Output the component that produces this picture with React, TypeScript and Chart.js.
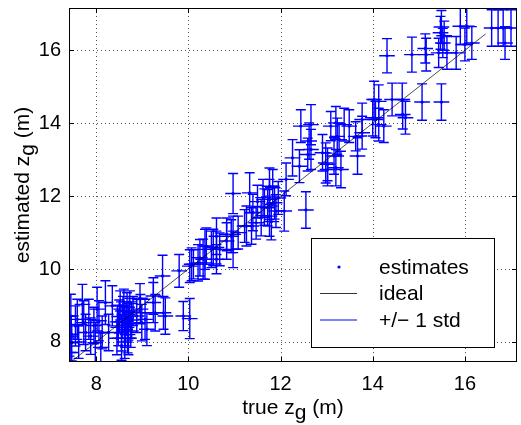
import React, { useEffect, useRef } from "react";
import { Chart, registerables } from "chart.js";

Chart.register(...registerables);

// true z_g (x), estimated z_g (y), std of estimate (vertical bar half-length)
const TRUE_Z = [
  7.42, 7.47, 7.45, 7.45, 7.55, 7.46, 7.59, 7.73, 7.84, 7.88, 7.98, 8.02, 7.70, 7.77, 8.06, 8.13, 8.27, 8.20, 8.35, 7.62, 7.95, 8.10,
  8.45, 8.48, 8.50, 8.52, 8.55, 8.57, 8.58, 8.60, 8.62, 8.63, 8.65, 8.67, 8.68, 8.70, 8.72, 8.73, 8.75, 8.77, 8.55, 8.46, 8.80, 8.62, 8.70,
  8.88, 8.99, 9.06, 9.24, 9.28, 9.46, 9.50, 8.96, 9.24, 9.89, 10.03, 9.10, 8.95,
  9.44, 9.80, 10.07, 10.21, 10.32, 10.39, 10.61, 10.61, 10.93, 10.97, 11.22, 10.11, 10.25, 10.36, 10.36, 10.54, 10.68, 10.61, 10.50, 10.03,
  10.83, 10.97, 11.08, 10.83, 11.26, 11.37, 11.47, 11.58, 11.76, 11.72, 11.90, 12.08, 12.55, 11.62, 11.76, 11.87, 10.97, 11.33, 11.76, 12.12, 11.83, 11.50, 11.65, 11.80, 11.95, 11.40,
  12.44, 12.66, 13.09, 13.20, 13.38, 13.23, 13.49, 12.62, 12.66, 12.59, 12.26, 12.41, 12.91, 12.98, 13.02, 13.16, 13.20, 13.27, 13.67, 13.77, 13.31, 13.02, 13.63, 13.77,
  14.03, 14.00, 14.13, 14.42, 14.64, 14.65, 14.71, 15.07, 15.49, 14.24, 14.06, 14.13,
  14.31, 14.85, 15.16, 15.14, 15.49, 15.47, 15.52, 15.43, 15.61, 15.81, 15.90, 16.00, 16.04, 16.15, 16.58, 16.72, 16.83, 16.87, 17.00, 15.55,
];
const EST_Z = [
  8.16, 7.98, 7.71, 8.71, 8.44, 8.21, 8.62, 8.53, 8.62, 8.16, 7.98, 8.90, 9.03, 8.26, 8.58, 8.26, 8.26, 9.08, 8.99, 8.00, 8.45, 7.85,
  8.10, 8.40, 8.70, 9.00, 8.25, 8.55, 8.85, 9.10, 8.00, 8.35, 8.65, 8.95, 8.20, 8.50, 8.80, 9.05, 8.30, 8.60, 7.90, 8.55, 8.85, 8.45, 8.10,
  8.71, 8.53, 8.62, 9.08, 8.80, 8.80, 8.71, 8.90, 9.26, 8.71, 8.64, 8.35, 9.20,
  9.81, 9.95, 10.13, 10.17, 10.27, 10.63, 10.59, 10.90, 10.90, 10.54, 11.18, 10.13, 10.31, 10.17, 10.54, 10.59, 10.54, 10.27, 10.54, 10.08,
  10.95, 10.95, 11.00, 10.77, 11.18, 11.18, 11.27, 11.41, 11.45, 11.68, 11.59, 11.59, 11.62, 11.96, 11.91, 11.82, 12.07, 12.09, 12.27, 12.46, 12.23, 11.85, 11.70, 11.30, 11.95, 11.55,
  13.92, 13.96, 13.92, 14.01, 13.96, 13.64, 13.92, 13.51, 13.28, 13.14, 13.05, 12.82, 13.19, 12.91, 12.73, 13.10, 12.78, 13.55, 13.10, 13.74, 12.73, 12.87, 13.64, 14.10,
  14.65, 14.15, 13.96, 14.65, 14.65, 14.24, 14.15, 14.58, 14.58, 13.92, 14.10, 14.60,
  15.85, 15.88, 15.88, 16.05, 16.64, 16.48, 16.20, 15.93, 15.93, 15.93, 16.66, 16.16, 16.66, 16.20, 16.61, 16.61, 16.61, 16.20, 16.61, 16.40,
];
const STD_Z = [
  0.55, 0.50, 0.45, 0.60, 0.55, 0.50, 0.55, 0.60, 0.55, 0.50, 0.55, 0.60, 0.55, 0.50, 0.55, 0.45, 0.50, 0.60, 0.55, 0.45, 0.50, 0.40,
  0.45, 0.50, 0.45, 0.40, 0.50, 0.45, 0.40, 0.35, 0.45, 0.50, 0.45, 0.40, 0.50, 0.45, 0.40, 0.35, 0.45, 0.50, 0.40, 0.45, 0.40, 0.55, 0.45,
  0.45, 0.50, 0.55, 0.55, 0.50, 0.45, 0.50, 0.40, 0.50, 0.40, 0.55, 0.45, 0.40,
  0.57, 0.45, 0.45, 0.50, 0.55, 0.50, 0.45, 0.50, 0.45, 0.50, 0.45, 0.40, 0.50, 0.45, 0.55, 0.50, 0.45, 0.40, 0.50, 0.45,
  0.45, 0.50, 0.45, 0.50, 0.55, 0.50, 0.45, 0.50, 0.55, 0.50, 0.45, 0.55, 0.50, 0.50, 0.55, 0.45, 0.55, 0.55, 0.50, 0.45, 0.50, 0.45, 0.50, 0.50, 0.45, 0.50,
  0.45, 0.55, 0.40, 0.45, 0.45, 0.50, 0.45, 0.50, 0.55, 0.45, 0.50, 0.45, 0.50, 0.55, 0.45, 0.50, 0.50, 0.45, 0.50, 0.45, 0.50, 0.45, 0.40, 0.45,
  0.50, 0.50, 0.45, 0.45, 0.45, 0.40, 0.45, 0.50, 0.50, 0.45, 0.50, 0.45,
  0.47, 0.48, 0.45, 0.40, 0.45, 0.45, 0.40, 0.40, 0.45, 0.45, 0.50, 0.45, 0.50, 0.45, 0.50, 0.50, 0.50, 0.45, 0.50, 0.40,
];
const STD_X = 0.17; // horizontal bar half-width (m)

const IDEAL = [7.45, 16.45];
const X_TICKS = [8, 10, 12, 14, 16];
const Y_TICKS = [8, 10, 12, 14, 16];
const X_RANGE = [7.41, 17.13];
const Y_RANGE = [7.45, 17.16];
const LEGEND_LABELS = ["estimates", "ideal", "+/\u2212 1 std"];
const X_TITLE = ["true z", "g", " (m)"];
const Y_TITLE = ["estimated z", "g", " (m)"];

const FONT = '"Liberation Sans", Arial, Helvetica, sans-serif';
const BLUE = "rgb(0,0,255)";

export default function App() {
  const ref = useRef<HTMLCanvasElement>(null);

  useEffect(() => {
    document.body.style.margin = "0";
    const canvas = ref.current!;

    const drawSubTitle = (ctx: CanvasRenderingContext2D, parts: string[], x0: number, y0: number) => {
      const w = parts.map((p) => ctx.measureText(p).width);
      let x = x0 - (w[0] + w[1] + w[2]) / 2;
      ctx.fillText(parts[0], x, y0);
      x += w[0];
      ctx.fillText(parts[1], x, y0 + 5);
      x += w[1];
      ctx.fillText(parts[2], x, y0);
    };

    const noPad = (s: any) => {
      s.paddingTop = 0;
      s.paddingBottom = 0;
      s.paddingLeft = 0;
      s.paddingRight = 0;
    };

    const plugin = {
      id: "matlabStyle",
      beforeDatasetsDraw(chart: any) {
        const { ctx, chartArea: a, scales } = chart;
        const xs = scales.x, ys = scales.y;
        ctx.save();
        // grid
        ctx.strokeStyle = "#555";
        ctx.lineWidth = 1;
        ctx.setLineDash([1, 3]);
        X_TICKS.forEach((v) => {
          const px = Math.round(xs.getPixelForValue(v)) + 0.5;
          ctx.beginPath(); ctx.moveTo(px, a.top); ctx.lineTo(px, a.bottom); ctx.stroke();
        });
        Y_TICKS.forEach((v) => {
          const py = Math.round(ys.getPixelForValue(v)) + 0.5;
          ctx.beginPath(); ctx.moveTo(a.left, py); ctx.lineTo(a.right, py); ctx.stroke();
        });
        ctx.setLineDash([]);
        // error bars
        ctx.beginPath();
        ctx.rect(a.left, a.top, a.right - a.left, a.bottom - a.top);
        ctx.clip();
        ctx.strokeStyle = BLUE;
        ctx.lineWidth = 1.4;
        for (let i = 0; i < TRUE_Z.length; i++) {
          const px = xs.getPixelForValue(TRUE_Z[i]);
          const py = ys.getPixelForValue(EST_Z[i]);
          const t = ys.getPixelForValue(EST_Z[i] + STD_Z[i]);
          const b = ys.getPixelForValue(EST_Z[i] - STD_Z[i]);
          const l = xs.getPixelForValue(TRUE_Z[i] - STD_X);
          const r = xs.getPixelForValue(TRUE_Z[i] + STD_X);
          ctx.beginPath();
          ctx.moveTo(px, t); ctx.lineTo(px, b);
          ctx.moveTo(px - 5, t); ctx.lineTo(px + 5, t);
          ctx.moveTo(px - 5, b); ctx.lineTo(px + 5, b);
          ctx.moveTo(l, py); ctx.lineTo(r, py);
          ctx.stroke();
        }
        ctx.restore();
      },
      afterDraw(chart: any) {
        const { ctx, chartArea: a, scales } = chart;
        const xs = scales.x, ys = scales.y;
        ctx.save();
        // box
        ctx.strokeStyle = "#000";
        ctx.lineWidth = 1;
        ctx.strokeRect(a.left + 0.5, a.top + 0.5, a.right - a.left - 1, a.bottom - a.top - 1);
        // inner ticks
        ctx.beginPath();
        X_TICKS.forEach((v) => {
          const px = Math.round(xs.getPixelForValue(v)) + 0.5;
          ctx.moveTo(px, a.bottom); ctx.lineTo(px, a.bottom - 5);
          ctx.moveTo(px, a.top); ctx.lineTo(px, a.top + 5);
        });
        Y_TICKS.forEach((v) => {
          const py = Math.round(ys.getPixelForValue(v)) + 0.5;
          ctx.moveTo(a.left, py); ctx.lineTo(a.left + 5, py);
          ctx.moveTo(a.right, py); ctx.lineTo(a.right - 5, py);
        });
        ctx.stroke();

        // legend
        const lx = 311.5, ly = 238.5, lw = 183, lh = 109;
        ctx.fillStyle = "#fff";
        ctx.fillRect(lx, ly, lw, lh);
        ctx.strokeStyle = "#000";
        ctx.strokeRect(lx, ly, lw, lh);
        ctx.font = `21px ${FONT}`;
        ctx.fillStyle = "#000";
        ctx.textAlign = "left";
        ctx.textBaseline = "middle";
        const rows = [268, 294, 321];
        LEGEND_LABELS.forEach((s, i) => ctx.fillText(s, 379, rows[i]));
        ctx.fillStyle = BLUE;
        ctx.beginPath(); ctx.arc(339, rows[0] - 1, 1.6, 0, Math.PI * 2); ctx.fill();
        ctx.strokeStyle = "#000";
        ctx.lineWidth = 0.8;
        ctx.beginPath(); ctx.moveTo(320, rows[1] - 0.5); ctx.lineTo(357, rows[1] - 0.5); ctx.stroke();
        ctx.strokeStyle = BLUE;
        ctx.lineWidth = 1;
        ctx.beginPath(); ctx.moveTo(320, rows[2] - 1); ctx.lineTo(357, rows[2] - 1); ctx.stroke();

        // axis titles
        ctx.fillStyle = "#000";
        ctx.textBaseline = "alphabetic";
        ctx.font = `21px ${FONT}`;
        drawSubTitle(ctx, X_TITLE, (a.left + a.right) / 2, 414);
        ctx.translate(29, (a.top + a.bottom) / 2);
        ctx.rotate(-Math.PI / 2);
        drawSubTitle(ctx, Y_TITLE, 0, 0);
        ctx.restore();
      },
    };

    const chart = new Chart(canvas, {
      type: "scatter",
      data: {
        datasets: [
          {
            label: "ideal",
            data: IDEAL.map((v) => ({ x: v, y: v })),
            showLine: true,
            borderColor: "#000",
            borderWidth: 0.7,
            pointRadius: 0,
          },
          {
            label: "estimates",
            data: TRUE_Z.map((x, i) => ({ x, y: EST_Z[i] })),
            pointRadius: 1.6,
            pointBackgroundColor: BLUE,
            pointBorderWidth: 0,
            borderWidth: 0,
          },
        ],
      },
      options: {
        animation: false,
        responsive: false,
        devicePixelRatio: 1,
        layout: { padding: { top: 8, right: 2, left: 0, bottom: 0 } },
        plugins: { legend: { display: false }, tooltip: { enabled: false } },
        scales: {
          x: {
            type: "linear",
            min: X_RANGE[0],
            max: X_RANGE[1],
            grid: { display: false, drawTicks: false },
            border: { display: false },
            afterBuildTicks: (s: any) => { s.ticks = X_TICKS.map((v) => ({ value: v })); },
            afterFit: (s: any) => { s.height = 63; noPad(s); },
            ticks: { color: "#000", padding: 10, font: { family: FONT, size: 20 }, callback: (v: any) => String(v) },
          },
          y: {
            type: "linear",
            min: Y_RANGE[0],
            max: Y_RANGE[1],
            grid: { display: false, drawTicks: false },
            border: { display: false },
            afterBuildTicks: (s: any) => { s.ticks = Y_TICKS.map((v) => ({ value: v })); },
            afterFit: (s: any) => { s.width = 69; noPad(s); },
            ticks: { color: "#000", padding: 8, font: { family: FONT, size: 20 }, callback: (v: any) => String(v) },
          },
        },
      },
      plugins: [plugin],
    });
    return () => chart.destroy();
  }, []);

  return <canvas ref={ref} width={521} height={425} style={{ display: "block" }} />;
}
